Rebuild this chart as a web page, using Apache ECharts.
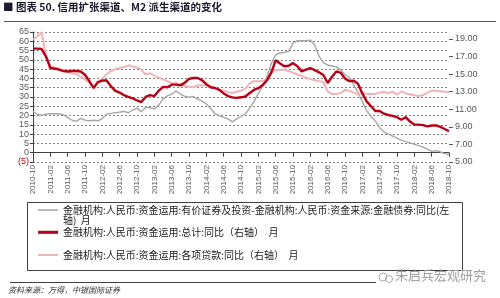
<!DOCTYPE html>
<html><head><meta charset="utf-8">
<script src="https://cdn.jsdelivr.net/npm/echarts@6/dist/echarts.min.js"></script>
<style>html,body{margin:0;padding:0;background:#fff}#c{width:500px;height:298px}</style>
</head><body><div id="c"></div><script>
const months = [
"2010-10","2010-11","2010-12",
"2011-01","2011-02","2011-03","2011-04","2011-05","2011-06","2011-07","2011-08","2011-09","2011-10","2011-11","2011-12",
"2012-01","2012-02","2012-03","2012-04","2012-05","2012-06","2012-07","2012-08","2012-09","2012-10","2012-11","2012-12",
"2013-01","2013-02","2013-03","2013-04","2013-05","2013-06","2013-07","2013-08","2013-09","2013-10","2013-11","2013-12",
"2014-01","2014-02","2014-03","2014-04","2014-05","2014-06","2014-07","2014-08","2014-09","2014-10","2014-11","2014-12",
"2015-01","2015-02","2015-03","2015-04","2015-05","2015-06","2015-07","2015-08","2015-09","2015-10","2015-11","2015-12",
"2016-01","2016-02","2016-03","2016-04","2016-05","2016-06","2016-07","2016-08","2016-09","2016-10","2016-11","2016-12",
"2017-01","2017-02","2017-03","2017-04","2017-05","2017-06","2017-07","2017-08","2017-09","2017-10","2017-11","2017-12",
"2018-01","2018-02","2018-03","2018-04","2018-05","2018-06","2018-07","2018-08","2018-09","2018-10"];

// left axis: securities & investment minus financial bonds, YoY
const securitiesMinusBonds = [22.3,20.6,20.2,20.8,21.0,21.0,21.0,20.5,19.0,17.5,
16.9,18.5,17.5,17.2,17.5,17.2,18.5,20.8,21.2,21.6,
21.8,22.3,21.5,23.0,24.0,22.0,24.5,24.2,23.6,25.5,
29.0,30.6,31.5,33.2,31.6,30.4,29.9,30.2,29.0,27.8,
26.3,23.8,21.0,20.0,19.0,18.2,16.6,18.2,19.5,21.0,
24.0,27.5,32.0,36.0,41.0,48.0,52.8,53.7,54.0,54.6,
59.0,60.3,60.3,60.3,60.6,58.0,52.0,48.5,47.2,46.7,
46.2,44.5,42.0,40.5,36.5,32.5,27.5,22.5,19.5,17.0,
13.5,11.2,10.0,9.0,7.8,6.8,6.0,5.3,4.5,3.8,
3.0,2.0,0.7,1.1,0.5,-0.5,-1.0];

// right axis: total use of funds, YoY
const totalUse = [17.9,17.9,17.85,17.0,15.7,15.62,15.5,15.35,15.3,15.35,
15.35,15.3,14.93,14.2,13.4,14.1,14.27,14.27,13.6,13.1,
12.9,12.6,12.4,12.25,12.0,11.82,12.4,12.6,12.5,13.1,
13.55,13.5,13.8,13.8,13.72,14.0,14.45,14.56,14.56,14.3,
13.85,13.5,13.42,13.2,12.8,12.5,12.35,12.3,12.36,12.45,
12.85,13.2,13.4,13.75,14.3,15.2,16.57,16.2,15.9,15.95,
16.25,15.9,15.31,15.5,15.69,15.45,15.2,14.9,13.99,14.7,
15.3,15.15,14.5,14.2,14.25,13.9,12.8,11.9,11.35,10.8,
10.8,10.5,10.35,10.25,10.1,9.8,10.1,9.6,9.25,9.25,
9.2,9.06,9.15,9.17,9.0,8.75,8.5];

// right axis: loans, YoY
const loans = [18.93,19.3,19.75,17.0,15.9,15.75,15.65,15.4,15.3,15.1,
15.0,14.7,14.4,14.0,13.6,14.1,14.5,15.0,15.35,15.55,
15.7,15.8,16.0,15.85,15.75,15.5,14.95,15.1,14.8,14.6,
14.4,14.2,14.0,13.95,13.85,13.65,13.55,13.5,13.7,13.72,
13.72,13.5,13.4,13.25,13.1,12.95,12.85,13.0,13.11,13.35,
13.95,14.2,14.2,14.2,14.5,15.1,15.45,15.5,15.5,15.35,
15.15,14.95,14.8,14.6,14.45,14.3,14.2,14.1,13.0,12.74,
12.74,12.85,13.2,13.1,12.9,12.7,12.85,12.75,12.74,12.74,
12.9,12.96,12.85,13.0,12.66,13.04,12.8,12.7,12.6,12.5,
12.6,12.9,13.1,13.1,13.05,13.0,12.95];

const rightTicks = [5,7,9,11,13,15,17,19];

const name1 = '金融机构:人民币:资金运用:有价证券及投资-金融机构:人民币:资金来源:金融债券:同比(左轴)  月';
const name2 = '金融机构:人民币:资金运用:总计:同比（右轴）  月';
const name3 = '金融机构:人民币:资金运用:各项贷款:同比（右轴）  月';

const FONT = 'Liberation Sans';
const CJK = 'Noto Sans CJK SC';

const chart = echarts.init(document.getElementById('c'), null, {renderer: 'canvas'});
const legendText = {fontFamily: CJK, fontSize: 10, color: '#222', lineHeight: 12};
chart.setOption({
  animation: false,
  title: {
    text: '■ 图表 50. 信用扩张渠道、M2 派生渠道的变化',
    left: 3, top: 2, padding: 0,
    textStyle: {fontFamily: CJK, fontSize: 10.5, fontWeight: 'bold', color: '#1a1a2e'}
  },
  grid: {left: 33, right: 51, top: 32, bottom: 136, containLabel: false},
  xAxis: [{
    type: 'category', data: months, boundaryGap: false, position: 'bottom',
    axisLine: {show: false, onZero: false}, axisTick: {show: false},
    axisLabel: {interval: 3, rotate: 90, fontFamily: FONT, fontSize: 8, color: '#595959', margin: 3}
  }, {
    type: 'category', data: months, boundaryGap: false, position: 'bottom',
    axisLine: {show: true, onZero: true, onZeroAxisIndex: 0, lineStyle: {color: '#404040', width: 1}},
    axisTick: {show: true, interval: 3, length: 4, lineStyle: {color: '#404040'}},
    axisLabel: {show: false}, splitLine: {show: false}
  }],
  yAxis: [{
    type: 'value', min: -5, max: 65, interval: 5, position: 'left',
    axisLine: {show: true, lineStyle: {color: '#404040'}},
    axisTick: {show: true, length: 3, lineStyle: {color: '#404040'}},
    axisLabel: {
      fontFamily: FONT, fontSize: 9, margin: 4,
      formatter: v => v < 0 ? '(' + (-v) + ')' : String(v),
      color: v => Number(v) < 0 ? '#c00000' : '#595959'
    },
    splitLine: {show: true, lineStyle: {color: '#7f7f7f', type: [2, 2], width: 1}}
  }, {
    type: 'value', min: 5, max: 19.79, position: 'right',
    axisLine: {show: false},
    axisTick: {show: true, length: 4, customValues: rightTicks, lineStyle: {color: '#595959'}},
    axisLabel: {customValues: rightTicks, fontFamily: FONT, fontSize: 9, color: '#595959', margin: 6,
      formatter: v => Number(v).toFixed(2)},
    splitLine: {show: false}
  }],
  legend: [
    {data: [name1], left: 38, top: 194.3, orient: 'vertical', padding: 0, itemWidth: 20, itemHeight: 1.5, icon: 'rect',
     formatter: n => ' \n' + n.replace('(左', '(左\n'),
     textStyle: Object.assign({}, legendText, {lineHeight: 10.5})},
    {data: [name2], left: 38, top: 226.3, padding: 0, itemWidth: 20, itemHeight: 3, icon: 'rect', textStyle: legendText},
    {data: [name3], left: 38, top: 249, padding: 0, itemWidth: 20, itemHeight: 2, icon: 'rect', textStyle: legendText}
  ],
  series: [
    {name: name1, type: 'line', data: securitiesMinusBonds, yAxisIndex: 0, xAxisIndex: 0, symbol: 'none', z: 2,
     lineStyle: {color: '#a6a6a6', width: 1.4}, itemStyle: {color: '#a6a6a6'}},
    {name: name2, type: 'line', data: totalUse, yAxisIndex: 1, xAxisIndex: 0, symbol: 'none', z: 4,
     lineStyle: {color: '#b80014', width: 2.4}, itemStyle: {color: '#b80014'}},
    {name: name3, type: 'line', data: loans, yAxisIndex: 1, xAxisIndex: 0, symbol: 'none', z: 3,
     lineStyle: {color: '#f2b3b6', width: 2}, itemStyle: {color: '#f2b3b6'}}
  ],
  graphic: [
    {type: 'line', shape: {x1: 4, y1: 21.5, x2: 496, y2: 21.5}, style: {stroke: '#555', lineWidth: 1}},
    {type: 'rect', shape: {x: 27.5, y: 202.5, width: 435, height: 68}, style: {fill: 'none', stroke: '#404040', lineWidth: 1}},
    {type: 'line', shape: {x1: 10, y1: 282.5, x2: 376, y2: 282.5}, style: {stroke: '#404040', lineWidth: 1}},
    {type: 'circle', shape: {cx: 383, cy: 277, r: 4}, style: {fill: 'none', stroke: '#aaa', lineWidth: 1}},
    {type: 'circle', shape: {cx: 389, cy: 279, r: 3.5}, style: {fill: 'none', stroke: '#aaa', lineWidth: 1}},
    {type: 'text', x: 395, y: 269, style: {text: '朱启兵宏观研究', fontFamily: CJK, fontSize: 13, fill: '#a0a0a0'}},
    {type: 'text', x: 8, y: 286, style: {text: '资料来源：万得，中银国际证券', fontFamily: CJK, fontSize: 8, fontStyle: 'italic', fill: '#333'}}
  ]
});
</script></body></html>
